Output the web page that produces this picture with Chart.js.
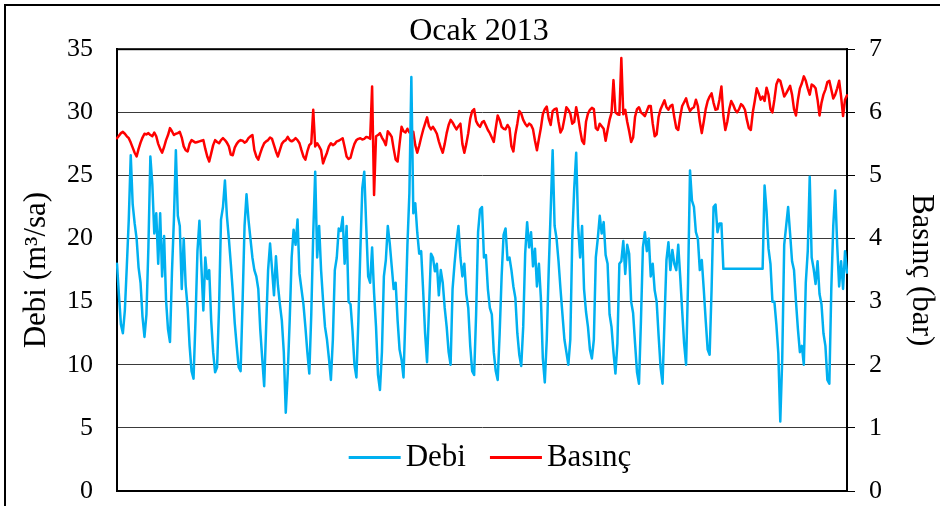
<!DOCTYPE html>
<html lang="tr">
<head>
<meta charset="utf-8">
<title>Ocak 2013</title>
<script src="https://cdn.jsdelivr.net/npm/chart.js@4.4.1/dist/chart.umd.min.js"></script>
<style>
  html, body { margin: 0; padding: 0; background: #fff; }
  #kutu { width: 940px; height: 506px; }
</style>
</head>
<body>
<div id="kutu"><canvas id="grafik" width="940" height="506"></canvas></div>
<script>
// Metinler
const baslik = 'Ocak 2013';
const debiEtiket = 'Debi';
const basincEtiket = 'Basınç';
const solEksenBaslik = 'Debi (m³/sa)';
const sagEksenBaslik = 'Basınç (bar)';

// Eksen tik değerleri
const debiTikleri = [0, 5, 10, 15, 20, 25, 30, 35];
const basincTikleri = [0, 1, 2, 3, 4, 5, 6, 7];

// Debi (m³/sa), ayın başından itibaren 2 saatte bir okuma
const debi = [
  18.0, 15.5, 13.2, 12.5, 14.3, 17.8, 21.5, 26.6, 22.7, 21.2,
  20.0, 17.7, 16.5, 13.8, 12.2, 14.0, 19.3, 26.5, 24.3, 20.4,
  22.0, 18.0, 22.0, 17.0, 20.2, 15.1, 12.8, 11.8, 17.3, 21.5,
  27.0, 21.8, 21.0, 16.0, 20.0, 16.3, 14.5, 11.5, 9.5, 8.9,
  13.5, 19.0, 21.4, 17.8, 14.3, 18.5, 16.8, 17.5, 13.5, 11.0,
  9.4, 9.8, 14.5, 21.5, 22.5, 24.6, 21.8, 20.0, 18.0, 15.8,
  13.3, 11.5, 9.8, 9.5, 15.0, 21.0, 23.5, 21.5, 20.0, 18.5,
  17.5, 17.0, 16.0, 12.8, 10.5, 8.3, 13.0, 17.5, 19.6, 17.6,
  15.5, 18.6, 16.3, 14.8, 13.5, 11.0, 6.2, 9.3, 13.5, 18.5,
  20.7, 19.5, 21.5, 17.2, 16.0, 14.8, 13.0, 11.0, 9.3, 14.0,
  20.4, 25.3, 18.5, 21.0, 17.5, 15.1, 13.0, 12.0, 10.5, 8.8,
  12.0, 17.5, 18.5, 20.8, 20.6, 21.7, 18.0, 21.0, 15.0, 14.8,
  12.7, 10.0, 9.0, 13.5, 19.0, 24.0, 25.3, 21.0, 17.0, 16.5,
  19.3, 15.7, 13.0, 9.2, 8.0, 11.0, 17.0, 18.3, 21.0, 19.6,
  17.8, 16.0, 16.5, 13.5, 11.2, 10.4, 9.0, 14.0, 19.5, 23.6,
  32.8, 22.0, 22.8, 20.5, 18.8, 19.0, 15.9, 12.5, 10.2, 14.5,
  18.8, 18.5, 17.4, 18.0, 15.5, 17.5, 16.5, 14.5, 13.0, 11.0,
  10.0, 16.0, 18.0, 19.7, 21.0, 18.5, 17.0, 18.0, 15.6, 14.5,
  11.5, 9.5, 9.2, 14.0, 20.5, 22.3, 22.5, 18.5, 18.7, 16.0,
  14.5, 14.0, 11.0, 9.5, 8.8, 12.5, 17.0, 20.3, 20.8, 18.3,
  18.5, 17.5, 16.2, 15.3, 12.5, 10.8, 9.9, 13.0, 18.8, 21.3,
  19.3, 20.5, 17.8, 19.2, 16.2, 18.0, 15.3, 10.5, 8.6, 12.0,
  17.5, 22.2, 27.0, 21.0, 20.0, 18.2, 16.0, 14.0, 12.0, 11.0,
  10.0, 12.0, 20.0, 24.0, 26.8, 21.0, 18.5, 21.0, 16.0, 14.2,
  13.0, 11.2, 10.5, 12.0, 18.5, 20.0, 21.8, 20.4, 21.3, 18.7,
  18.0, 14.0, 13.0, 11.0, 9.3, 11.7, 18.0, 18.2, 19.8, 17.2,
  19.5, 18.8, 15.0, 14.1, 11.7, 9.4, 8.5, 13.5, 19.3, 20.5,
  19.0, 20.0, 17.0, 18.0, 15.9, 15.0, 12.3, 9.8, 8.5, 13.5,
  18.3, 19.7, 17.5, 19.1, 18.0, 17.5, 19.5, 17.0, 14.3, 11.7,
  10.0, 16.5, 25.4, 23.0, 22.5, 20.5, 20.0, 17.5, 18.3, 16.0,
  13.5, 11.2, 10.8, 16.0, 22.5, 22.7, 20.5, 21.2, 21.2, 17.6,
  17.6, 17.6, 17.6, 17.6, 17.6, 17.6, 17.6, 17.6, 17.6, 17.6,
  17.6, 17.6, 17.6, 17.6, 17.6, 17.6, 17.6, 17.6, 17.6, 17.6,
  24.2, 22.2, 19.2, 18.0, 15.0, 15.0, 13.2, 10.9, 5.5, 10.5,
  19.5, 21.0, 22.5, 20.4, 18.2, 17.5, 15.0, 12.8, 11.0, 11.5,
  10.0, 16.5, 19.0, 24.9, 18.5, 17.6, 16.4, 18.2, 15.6, 14.8,
  12.5, 11.5, 8.8, 8.5, 16.0, 21.0, 23.8, 19.5, 16.2, 18.2,
  16.0, 19.0, 17.3
];

// Basınç (bar), aynı okuma anlarında
const basinc = [
  5.59, 5.63, 5.67, 5.69, 5.66, 5.62, 5.59, 5.52, 5.44, 5.36,
  5.30, 5.42, 5.52, 5.60, 5.66, 5.65, 5.67, 5.64, 5.62, 5.68,
  5.62, 5.50, 5.42, 5.36, 5.45, 5.56, 5.64, 5.75, 5.70, 5.64,
  5.66, 5.67, 5.69, 5.60, 5.46, 5.40, 5.38, 5.50, 5.56, 5.54,
  5.52, 5.53, 5.54, 5.55, 5.56, 5.42, 5.30, 5.22, 5.35, 5.48,
  5.56, 5.53, 5.51, 5.56, 5.59, 5.56, 5.52, 5.46, 5.33, 5.32,
  5.44, 5.50, 5.54, 5.56, 5.55, 5.52, 5.54, 5.59, 5.62, 5.64,
  5.40, 5.30, 5.25, 5.35, 5.44, 5.51, 5.54, 5.56, 5.60, 5.58,
  5.48, 5.38, 5.30, 5.40, 5.50, 5.54, 5.56, 5.61, 5.56, 5.54,
  5.56, 5.59, 5.56, 5.51, 5.40, 5.30, 5.25, 5.38, 5.48, 5.51,
  6.04, 5.46, 5.51, 5.46, 5.40, 5.19, 5.28, 5.36, 5.46, 5.51,
  5.48, 5.50, 5.54, 5.55, 5.57, 5.59, 5.45, 5.30, 5.26, 5.28,
  5.40, 5.50, 5.56, 5.58, 5.59, 5.57, 5.58, 5.61, 5.60, 5.58,
  6.41, 4.69, 5.62, 5.64, 5.67, 5.60, 5.55, 5.48, 5.70, 5.66,
  5.61, 5.42, 5.25, 5.22, 5.50, 5.77, 5.70, 5.68, 5.74, 5.68,
  5.68, 5.69, 5.48, 5.36, 5.47, 5.60, 5.72, 5.82, 5.92, 5.78,
  5.73, 5.77, 5.72, 5.66, 5.54, 5.44, 5.36, 5.50, 5.67, 5.80,
  5.88, 5.84, 5.78, 5.73, 5.78, 5.82, 5.50, 5.36, 5.50, 5.67,
  5.90, 6.02, 6.05, 5.86, 5.80, 5.77, 5.84, 5.86, 5.79, 5.72,
  5.67, 5.60, 5.53, 5.75, 5.95, 5.88, 5.77, 5.74, 5.73, 5.80,
  5.75, 5.46, 5.38, 5.65, 5.82, 6.02, 5.98, 5.88, 5.82, 5.78,
  5.82, 5.80, 5.73, 5.55, 5.40, 5.58, 5.75, 5.97, 6.05, 6.09,
  5.90, 5.80, 6.02, 6.05, 6.06, 5.85, 5.68, 5.74, 5.90, 6.08,
  6.04, 5.98, 5.82, 5.85, 6.08, 5.92, 5.72, 5.55, 5.50, 5.85,
  5.98, 6.04, 6.07, 6.05, 5.75, 5.72, 5.82, 5.78, 5.74, 5.55,
  5.72, 5.88, 5.99, 6.51, 6.00, 5.97, 5.96, 6.86, 5.97, 6.04,
  5.85, 5.70, 5.53, 5.60, 5.93, 6.05, 6.08, 6.00, 5.97, 5.94,
  6.02, 6.10, 6.10, 5.82, 5.62, 5.65, 5.93, 6.05, 6.12, 6.19,
  6.08, 6.04, 6.10, 6.12, 5.92, 5.75, 5.72, 5.93, 6.10, 6.16,
  6.22, 6.10, 6.02, 6.06, 6.08, 6.20, 6.10, 5.85, 5.67, 5.85,
  6.05, 6.18, 6.25, 6.30, 6.15, 6.04, 6.05, 6.20, 6.41, 5.95,
  5.72, 5.85, 6.05, 6.18, 6.12, 6.04, 6.00, 6.05, 6.13, 6.10,
  6.04, 5.88, 5.75, 5.72, 6.00, 6.18, 6.38, 6.30, 6.20, 6.25,
  6.18, 6.39, 6.28, 6.05, 6.00, 6.20, 6.44, 6.52, 6.50, 6.38,
  6.25, 6.30, 6.36, 6.42, 6.28, 6.05, 5.95, 6.20, 6.38, 6.46,
  6.57, 6.50, 6.38, 6.28, 6.44, 6.42, 6.38, 6.20, 5.95, 6.15,
  6.28, 6.36, 6.48, 6.50, 6.36, 6.22, 6.28, 6.38, 6.50, 6.25,
  5.94, 6.20, 6.27
];

// Ayın saatleri (0, 2, 4, ... 744)
const saatler = debi.map((_, i) => i * 2);

const YAZI = '"Liberation Serif", "Times New Roman", serif';

// Dış çerçeve ve çizim alanı kenarlığı
const cerceve = {
  id: 'cerceve',
  beforeDraw(chart) {
    const ctx = chart.ctx;
    ctx.save();
    ctx.fillStyle = '#fff';
    ctx.fillRect(0, 0, chart.width, chart.height);
    ctx.strokeStyle = '#000';
    ctx.lineWidth = 2;
    ctx.beginPath();
    ctx.moveTo(5, chart.height + 4);
    ctx.lineTo(5, 5);
    ctx.lineTo(chart.width + 4, 5);
    ctx.stroke();
    ctx.restore();
  },
  beforeDatasetsDraw(chart) {
    const { left, top, right, bottom } = chart.chartArea;
    const ctx = chart.ctx;
    ctx.save();
    ctx.strokeStyle = '#000';
    ctx.lineWidth = 2;
    ctx.strokeRect(left, top, right - left, bottom - top);
    ctx.restore();
  }
};

// Çizim alanının altına yerleşen açıklama
const icLejant = {
  id: 'icLejant',
  afterDraw(chart) {
    const ctx = chart.ctx;
    const a = chart.chartArea;
    const cizgi = 52, bosluk = 5, ara = 24;
    ctx.save();
    ctx.font = '31px ' + YAZI;
    const ogeler = chart.data.datasets.map(d => ({
      ad: d.label, renk: d.borderColor, w: ctx.measureText(d.label).width
    }));
    const toplam = ogeler.reduce((s, o) => s + cizgi + bosluk + o.w, 0) + ara * (ogeler.length - 1);
    let x = (a.left + a.right) / 2 - toplam / 2 + 8;
    const y = a.bottom - 33.5;
    ctx.textBaseline = 'middle';
    ctx.textAlign = 'left';
    ogeler.forEach(o => {
      ctx.strokeStyle = o.renk;
      ctx.lineWidth = 3;
      ctx.beginPath();
      ctx.moveTo(x, y);
      ctx.lineTo(x + cizgi, y);
      ctx.stroke();
      x += cizgi + bosluk;
      ctx.fillStyle = '#000';
      ctx.fillText(o.ad, x, y);
      x += o.w + ara;
    });
    ctx.restore();
  }
};

// Dikey eksenlerin genişliğini sabitler, etiket taşma payını kaldırır
function eksenBoyu(genislik) {
  return s => {
    s.width = genislik;
    s.paddingTop = 0;
    s.paddingBottom = 0;
  };
}

new Chart(document.getElementById('grafik'), {
  type: 'line',
  data: {
    labels: saatler,
    datasets: [
      {
        label: debiEtiket,
        data: debi,
        yAxisID: 'y',
        borderColor: '#00B0F0',
        borderWidth: 2.5,
        pointRadius: 0,
        tension: 0,
        borderJoinStyle: 'round',
        borderCapStyle: 'round',
        fill: false
      },
      {
        label: basincEtiket,
        data: basinc,
        yAxisID: 'y1',
        borderColor: '#FF0000',
        borderWidth: 2.5,
        pointRadius: 0,
        tension: 0,
        borderJoinStyle: 'round',
        borderCapStyle: 'round',
        fill: false
      }
    ]
  },
  options: {
    responsive: false,
    animation: false,
    devicePixelRatio: 1,
    layout: { padding: { left: 18, right: 0, top: 0, bottom: 15 } },
    plugins: {
      legend: { display: false },
      tooltip: { enabled: false },
      title: {
        display: true,
        text: baslik,
        color: '#000',
        font: { family: YAZI, size: 32, weight: 'normal', lineHeight: 1.1 },
        padding: { top: 14, bottom: 0 }
      }
    },
    scales: {
      x: {
        type: 'category',
        display: false,
        offset: false
      },
      y: {
        position: 'left',
        min: 0,
        max: 35,
        afterBuildTicks: s => { s.ticks = debiTikleri.map(v => ({ value: v })); },
        afterFit: eksenBoyu(99),
        grid: { color: '#3a3a3a', lineWidth: 1, drawTicks: false },
        border: { display: true, color: '#000', width: 2 },
        ticks: {
          autoSkip: false,
          padding: 24,
          color: '#000',
          font: { family: YAZI, size: 26, lineHeight: 1 }
        },
        title: {
          display: true,
          text: solEksenBaslik,
          color: '#000',
          padding: 0,
          font: { family: YAZI, size: 31, lineHeight: 1.2 }
        }
      },
      y1: {
        position: 'right',
        min: 0,
        max: 7,
        afterBuildTicks: s => { s.ticks = basincTikleri.map(v => ({ value: v })); },
        afterFit: eksenBoyu(93),
        grid: { drawOnChartArea: false, drawTicks: true, tickLength: 8, color: '#000', lineWidth: 1 },
        border: { display: true, color: '#000', width: 2 },
        ticks: {
          autoSkip: false,
          padding: 14,
          color: '#000',
          font: { family: YAZI, size: 26, lineHeight: 1 }
        },
        title: {
          display: true,
          text: sagEksenBaslik,
          color: '#000',
          padding: 0,
          font: { family: YAZI, size: 31, lineHeight: 1.2 }
        }
      }
    }
  },
  plugins: [cerceve, icLejant]
});
</script>
</body>
</html>
